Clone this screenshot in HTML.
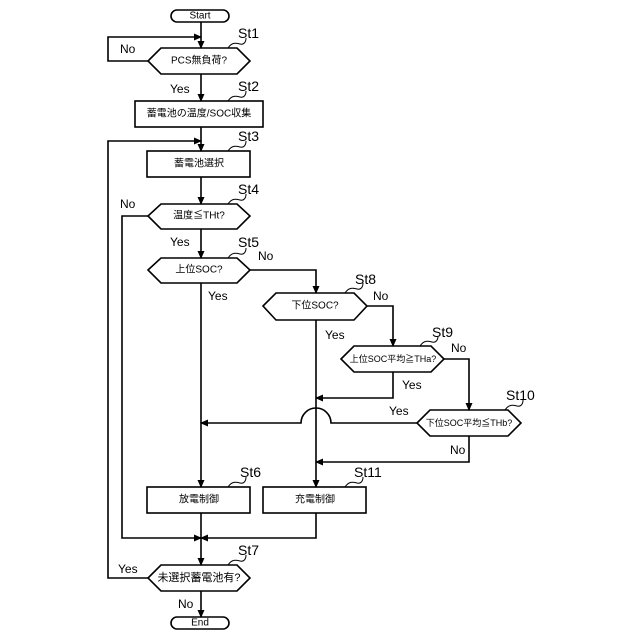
<!DOCTYPE html>
<html><head><meta charset="utf-8"><style>
html,body{margin:0;padding:0;background:#fff}
svg{display:block}
text{font-family:"Liberation Sans","Noto Sans CJK JP",sans-serif;fill:#000}
.t{font-size:10px;text-anchor:middle;dominant-baseline:central}
.l{font-size:12px}
.s{font-size:14px}
</style></head><body>
<svg width="640" height="640" viewBox="0 0 640 640" xmlns="http://www.w3.org/2000/svg">
<defs><marker id="a" markerWidth="8" markerHeight="8" refX="7" refY="4" orient="auto" markerUnits="userSpaceOnUse"><path d="M0,0.5 L8,4 L0,7.5 z" fill="#000"/></marker></defs>
<g fill="none" stroke="#000" stroke-width="1.6">
<rect x="171" y="10" width="58" height="12" rx="6"/>
<rect x="171" y="617" width="58" height="12" rx="6"/>
<polygon points="148,61 161,48 237,48 250,61 237,74 161,74"/>
<rect x="135" y="101" width="128" height="26"/>
<rect x="147" y="151" width="103" height="26"/>
<polygon points="148,216 161,204 237,204 250,216 237,229 161,229"/>
<polygon points="148,270 161,258 237,258 250,270 237,283 161,283"/>
<polygon points="263,306 276,293 354,293 367,306 354,320 276,320"/>
<polygon points="341,359 354,346 431,346 444,359 431,372 354,372"/>
<polygon points="417,423 430,410 508,410 521,423 508,436 430,436"/>
<rect x="147" y="487" width="103" height="26"/>
<rect x="263" y="487" width="103" height="26"/>
<polygon points="148,578 161,565 237,565 250,578 237,591 161,591"/>
<!-- main -->
<path d="M201,22 V48" marker-end="url(#a)"/>
<path d="M148,61 H108 V37 H201" marker-end="url(#a)"/>
<path d="M201,74 V101" marker-end="url(#a)"/>
<path d="M201,127 V151" marker-end="url(#a)"/>
<path d="M148,578 H108 V141 H201" marker-end="url(#a)"/>
<path d="M201,177 V204" marker-end="url(#a)"/>
<path d="M201,229 V258" marker-end="url(#a)"/>
<path d="M201,283 V487" marker-end="url(#a)"/>
<path d="M250,270 H316 V293" marker-end="url(#a)"/>
<path d="M316,320 V487" marker-end="url(#a)"/>
<path d="M367,306 H393 V346" marker-end="url(#a)"/>
<path d="M393,372 V398 H316" marker-end="url(#a)"/>
<path d="M444,359 H469 V410" marker-end="url(#a)"/>
<path d="M417,423 H331 A15,15 0 0 0 301,423 H201" marker-end="url(#a)"/>
<path d="M469,436 V462 H316" marker-end="url(#a)"/>
<path d="M148,216 H122 V538 H201" marker-end="url(#a)"/>
<path d="M316,513 V538 H201" marker-end="url(#a)"/>
<path d="M201,513 V565" marker-end="url(#a)"/>
<path d="M201,591 V617" marker-end="url(#a)"/>
</g>
<g fill="none" stroke="#000" stroke-width="1">
<path d="M228,48 C232,42 236,43 240,44 C244,45 246,42 246,38"/>
<path d="M228,101 C232,95 236,96 240,97 C244,98 246,95 246,91"/>
<path d="M228,151 C232,145 236,146 240,147 C244,148 246,145 246,141"/>
<path d="M228,204 C232,198 236,199 240,200 C244,201 246,198 246,194"/>
<path d="M228,258 C232,252 236,253 240,254 C244,255 246,252 246,248"/>
<path d="M345,293 C349,287 353,288 357,289 C361,290 363,287 363,283"/>
<path d="M420,346 C424,340 428,341 432,342 C436,343 438,340 438,336"/>
<path d="M505,410 C509,404 513,405 517,406 C521,407 523,404 523,400"/>
<path d="M228,487 C232,481 236,482 240,483 C244,484 246,481 246,477"/>
<path d="M345,487 C349,481 353,482 357,483 C361,484 363,481 363,477"/>
<path d="M228,565 C232,559 236,560 240,561 C244,562 246,559 246,555"/>
</g>
<text class="t" x="200" y="16">Start</text>
<text class="t" x="200" y="623">End</text>
<text class="t" x="199" y="61">PCS無負荷?</text>
<text class="t" x="199" y="114">蓄電池の温度/SOC収集</text>
<text class="t" x="199" y="164">蓄電池選択</text>
<text class="t" x="199" y="216">温度≦THt?</text>
<text class="t" x="199" y="270">上位SOC?</text>
<text class="t" x="315" y="306">下位SOC?</text>
<text class="t" x="393" y="359" style="font-size:9px">上位SOC平均≧THa?</text>
<text class="t" x="469" y="423" style="font-size:9px">下位SOC平均≦THb?</text>
<text class="t" x="199" y="500">放電制御</text>
<text class="t" x="315" y="500">充電制御</text>
<text class="t" x="199" y="578" style="font-size:11px">未選択蓄電池有?</text>
<text class="l" x="120" y="53">No</text>
<text class="l" x="170" y="93">Yes</text>
<text class="l" x="120" y="208">No</text>
<text class="l" x="170" y="246">Yes</text>
<text class="l" x="258" y="260">No</text>
<text class="l" x="208" y="300">Yes</text>
<text class="l" x="373" y="300">No</text>
<text class="l" x="325" y="339">Yes</text>
<text class="l" x="451" y="352">No</text>
<text class="l" x="402" y="389">Yes</text>
<text class="l" x="389" y="415">Yes</text>
<text class="l" x="450" y="454">No</text>
<text class="l" x="118" y="573">Yes</text>
<text class="l" x="178" y="608">No</text>
<text class="s" x="238" y="38">St1</text>
<text class="s" x="238" y="91">St2</text>
<text class="s" x="238" y="141">St3</text>
<text class="s" x="238" y="194">St4</text>
<text class="s" x="238" y="247">St5</text>
<text class="s" x="355" y="284">St8</text>
<text class="s" x="432" y="337">St9</text>
<text class="s" x="506" y="400">St10</text>
<text class="s" x="240" y="477">St6</text>
<text class="s" x="354" y="477">St11</text>
<text class="s" x="238" y="555">St7</text>
</svg>
</body></html>
